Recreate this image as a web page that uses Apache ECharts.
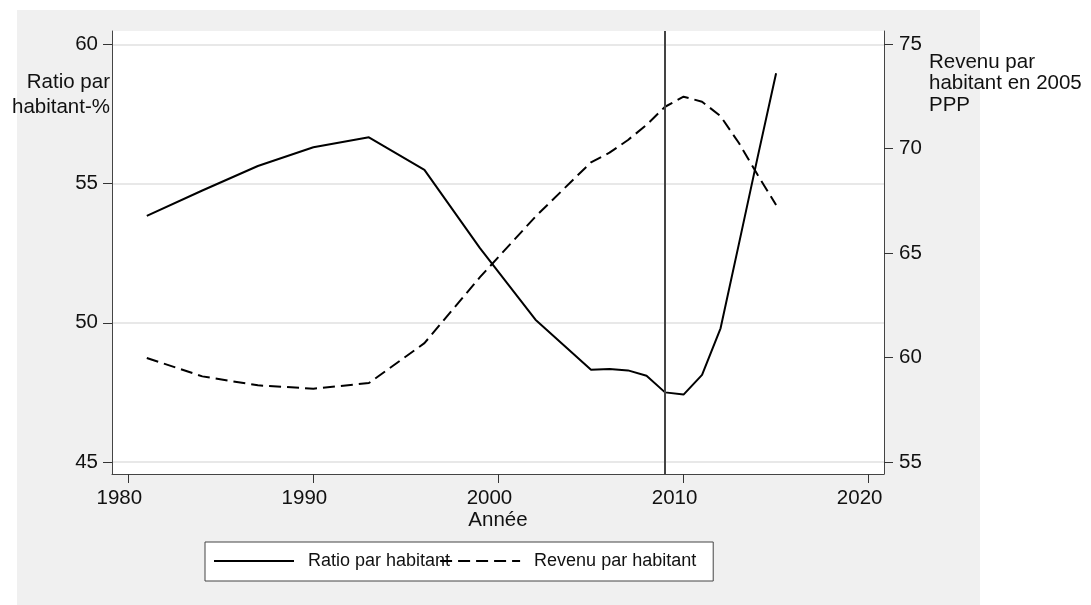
<!DOCTYPE html>
<html>
<head>
<meta charset="utf-8">
<script src="https://cdn.jsdelivr.net/npm/echarts@6/dist/echarts.min.js"></script>
<style>
html,body{margin:0;padding:0;background:#fff;}
#chart{width:1091px;height:605px;}
</style>
</head>
<body>
<div id="chart"></div>
<script>
var years = [1981, 1984, 1987, 1990, 1993, 1996, 1999, 2002, 2005, 2006, 2007, 2008, 2009, 2010, 2011, 2012, 2013, 2014, 2015];
var ratio = [53.84, 54.75, 55.63, 56.30, 56.66, 55.49, 52.68, 50.11, 48.31, 48.34, 48.29, 48.10, 47.50, 47.42, 48.13, 49.80, 52.86, 55.94, 58.96];
var revenu = [59.98, 59.10, 58.67, 58.51, 58.78, 60.69, 63.85, 66.75, 69.35, 69.81, 70.42, 71.14, 72.01, 72.49, 72.25, 71.56, 70.26, 68.75, 67.31];
var xTicks = [1980, 1990, 2000, 2010, 2020];
var leftTicks = [45, 50, 55, 60];
var rightTicks = [55, 60, 65, 70, 75];
var crisisYear = 2009;

var font = 'Liberation Sans';
var chart = echarts.init(document.getElementById('chart'));

function pairs(vals) {
    return years.map(function (y, i) { return [y, vals[i]]; });
}
function plain(v) { return String(v); }

var option = {
    animation: false,
    textStyle: { fontFamily: font, color: '#111' },
    graphic: [{
        type: 'rect', z: -10, silent: true,
        shape: { x: 17, y: 10, width: 963, height: 595 },
        style: { fill: '#f0f0f0' }
    }],
    grid: {
        left: 112, right: 207, top: 31, bottom: 131,
        containLabel: false, outerBoundsMode: 'none',
        show: true, backgroundColor: '#fff', borderWidth: 0
    },
    legend: {
        left: 205, top: 542,
        orient: 'horizontal',
        backgroundColor: '#fff',
        borderColor: '#444', borderWidth: 1,
        padding: [10, 17, 11, 8],
        itemWidth: 80, itemHeight: 14, itemGap: -11,
        itemStyle: { opacity: 0 },
        textStyle: { fontFamily: font, fontSize: 18, color: '#111', padding: [0, 0, 0, 9] },
        data: ['Ratio par habitant', 'Revenu par habitant']
    },
    xAxis: {
        type: 'value',
        min: 1979.12, max: 2020.83,
        name: 'Année', nameLocation: 'middle', nameGap: 36, nameMoveOverlap: false,
        nameTextStyle: { fontFamily: font, fontSize: 20.5, color: '#111' },
        axisLine: { show: true, lineStyle: { color: '#444', width: 1 } },
        axisTick: { show: true, length: 9, lineStyle: { color: '#333' }, customValues: xTicks },
        axisLabel: { fontFamily: font, fontSize: 20.5, color: '#111', margin: 14, padding: [0, 18, 0, 0], customValues: xTicks, formatter: plain },
        splitLine: { show: false }
    },
    yAxis: [{
        type: 'value', position: 'left',
        min: 44.569, max: 60.477,
        name: 'Ratio par\nhabitant-%', nameLocation: 'end', nameGap: -39, nameMoveOverlap: false,
        nameTextStyle: { fontFamily: font, fontSize: 20.5, color: '#111', align: 'right', verticalAlign: 'top', lineHeight: 25, padding: [0, 2, 0, 0] },
        axisLine: { show: true, lineStyle: { color: '#444', width: 1 } },
        axisTick: { show: true, length: 9, lineStyle: { color: '#333' }, customValues: leftTicks },
        axisLabel: { fontFamily: font, fontSize: 20.5, color: '#111', margin: 14, padding: [0, 0, 12, 0], customValues: leftTicks, formatter: plain },
        splitLine: { show: true, lineStyle: { color: '#e8e8e8', width: 2 } }
    }, {
        type: 'value', position: 'right',
        min: 54.425, max: 75.637,
        name: 'Revenu par\nhabitant en 2005\nPPP', nameLocation: 'end', nameGap: -20, nameMoveOverlap: false,
        nameTextStyle: { fontFamily: font, fontSize: 20.5, color: '#111', align: 'left', verticalAlign: 'top', lineHeight: 21.7, padding: [0, 0, 0, 45] },
        axisLine: { show: true, lineStyle: { color: '#444', width: 1 } },
        axisTick: { show: true, length: 9, lineStyle: { color: '#333' }, customValues: rightTicks },
        axisLabel: { fontFamily: font, fontSize: 20.5, color: '#111', margin: 15, padding: [0, 0, 12, 0], customValues: rightTicks, formatter: plain },
        splitLine: { show: false }
    }],
    series: [{
        name: 'Ratio par habitant',
        type: 'line',
        yAxisIndex: 0,
        data: pairs(ratio),
        symbol: 'none',
        lineStyle: { color: '#000', width: 2 },
        itemStyle: { color: '#000' },
        markLine: {
            silent: true,
            symbol: 'none',
            label: { show: false },
            lineStyle: { color: '#444', width: 2, type: 'solid' },
            data: [{ xAxis: crisisYear }]
        }
    }, {
        name: 'Revenu par habitant',
        type: 'line',
        yAxisIndex: 1,
        data: pairs(revenu),
        symbol: 'none',
        lineStyle: { color: '#000', width: 2, type: [12, 6] },
        itemStyle: { color: '#000' }
    }]
};
chart.setOption(option);
</script>
</body>
</html>
